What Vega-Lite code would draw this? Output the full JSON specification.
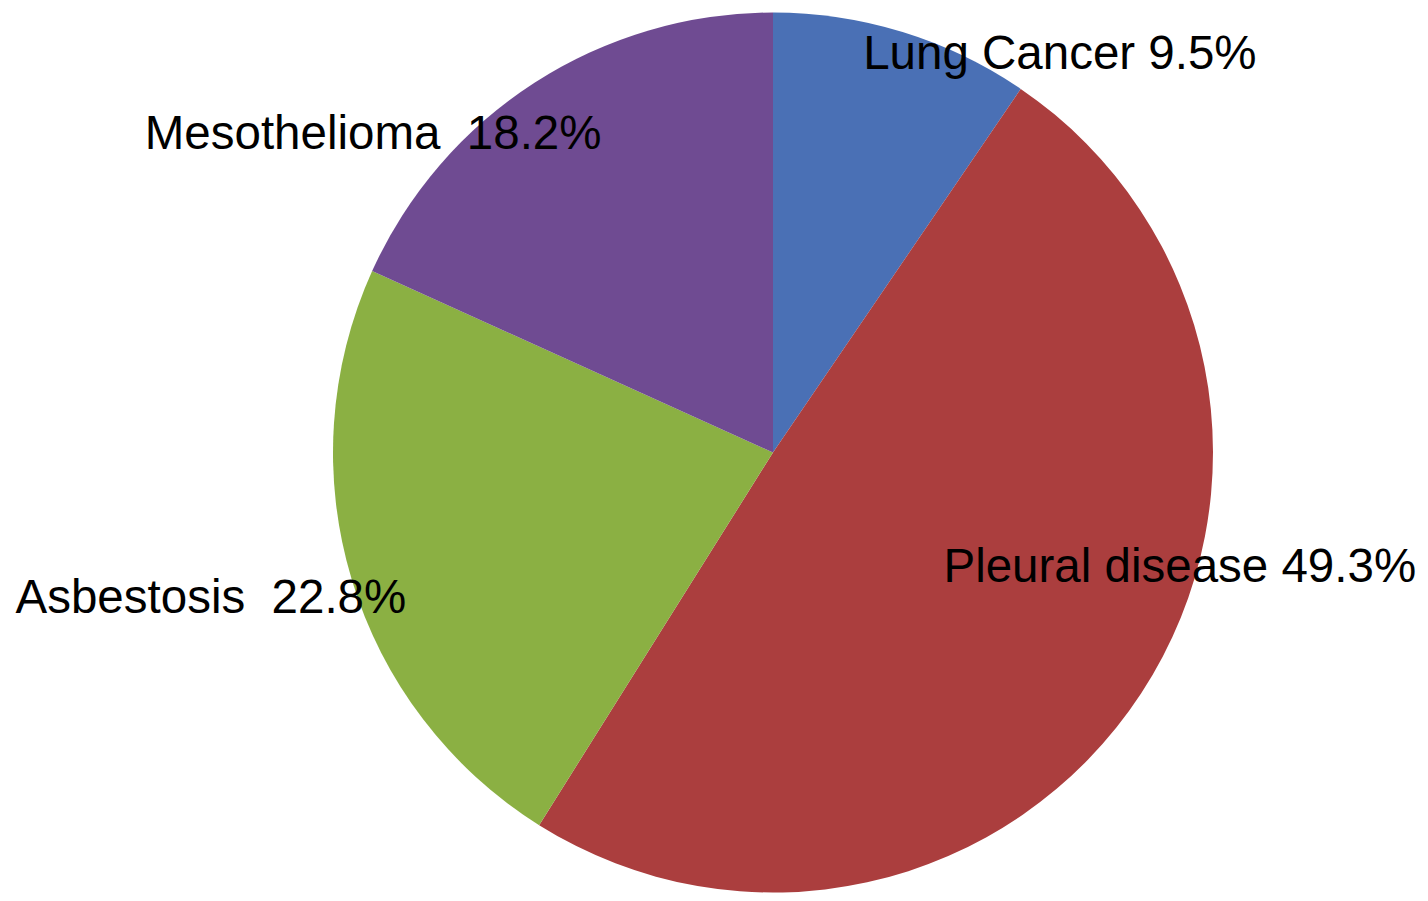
{
  "$schema": "https://vega.github.io/schema/vega-lite/v6.json",
  "autosize": "none",
  "width": 1310,
  "height": 897,
  "padding": {"left": 118, "top": 4, "right": 0, "bottom": 0},
  "background": "white",
  "config": {"view": {"stroke": null}},
  "data": {
    "values": [
      {"label": "Lung Cancer", "text": "Lung Cancer 9.5%", "value": 9.5, "order": 1},
      {"label": "Pleural disease", "text": "Pleural disease 49.3%", "value": 49.3, "order": 2},
      {"label": "Asbestosis", "text": "Asbestosis\u00a0 22.8%", "value": 22.8, "order": 3},
      {"label": "Mesothelioma", "text": "Mesothelioma\u00a0 18.2%", "value": 18.2, "order": 4}
    ]
  },
  "transform": [
    {"window": [{"op": "sum", "field": "value", "as": "cum"}], "sort": [{"field": "order"}]},
    {"calculate": "datum.cum - datum.value / 2", "as": "mid"}
  ],
  "layer": [
    {
      "mark": {"type": "arc", "outerRadius": 440},
      "encoding": {
        "theta": {"field": "value", "type": "quantitative", "stack": true},
        "order": {"field": "order", "type": "quantitative"},
        "color": {
          "field": "label",
          "type": "nominal",
          "legend": null,
          "scale": {
            "domain": ["Lung Cancer", "Pleural disease", "Asbestosis", "Mesothelioma"],
            "range": ["#4A70B5", "#AB3E3E", "#8BB043", "#6F4B92"]
          }
        }
      }
    },
    {
      "transform": [{"filter": "datum.label == 'Lung Cancer'"}],
      "mark": {"type": "text", "font": "Liberation Sans", "fontSize": 47.5, "color": "black", "align": "center", "baseline": "alphabetic", "radius": 451, "dx": 154, "dy": 47},
      "encoding": {
        "theta": {"field": "mid", "type": "quantitative"},
        "text": {"field": "text"}
      }
    },
    {
      "transform": [{"filter": "datum.label == 'Pleural disease'"}],
      "mark": {"type": "text", "font": "Liberation Sans", "fontSize": 47.5, "color": "black", "align": "center", "baseline": "alphabetic", "radius": 412, "dx": 62, "dy": -96},
      "encoding": {
        "theta": {"field": "mid", "type": "quantitative"},
        "text": {"field": "text"}
      }
    },
    {
      "transform": [{"filter": "datum.label == 'Asbestosis'"}],
      "mark": {"type": "text", "font": "Liberation Sans", "fontSize": 47.5, "color": "black", "align": "center", "baseline": "alphabetic", "radius": 585, "dx": -2, "dy": -8},
      "encoding": {
        "theta": {"field": "mid", "type": "quantitative"},
        "text": {"field": "text"}
      }
    },
    {
      "transform": [{"filter": "datum.label == 'Mesothelioma'"}],
      "mark": {"type": "text", "font": "Liberation Sans", "fontSize": 47.5, "color": "black", "align": "center", "baseline": "alphabetic", "radius": 472, "dx": -144, "dy": 93},
      "encoding": {
        "theta": {"field": "mid", "type": "quantitative"},
        "text": {"field": "text"}
      }
    }
  ]
}
